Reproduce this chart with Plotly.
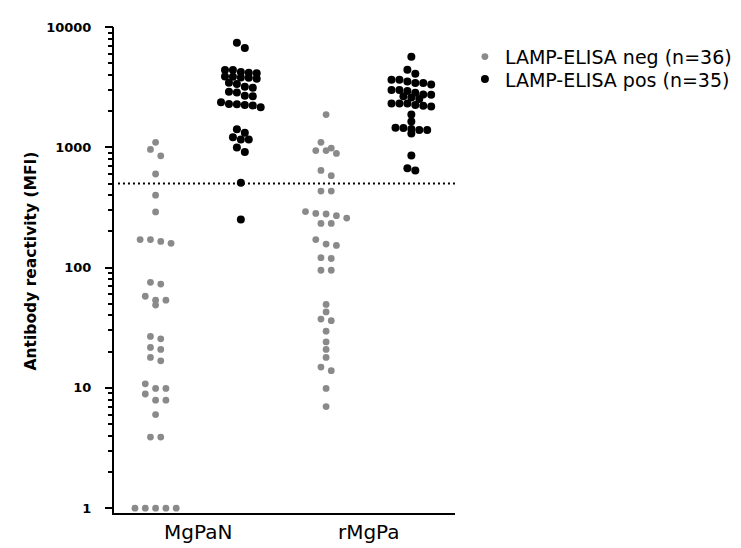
import numpy as np
import plotly.graph_objects as go

# ---------------- data ----------------
CATEGORIES = ["MgPaN", "rMgPa"]
CUTOFF = 500

NEG_MGPAN = [1100, 960, 850, 600, 400, 290, 171, 159, 165, 171,
             75.5, 73, 53.6, 48.8, 53.6, 57.8, 26.8, 25.6, 20.9, 21.7,
             17.9, 16.8, 10.8, 9.9, 9.9, 8.9, 7.9, 7.9, 6.0, 3.9, 3.9,
             1, 1, 1, 1, 1]
POS_MGPAN = [7400, 6700, 4390, 4230, 4120, 4170, 4390, 3850, 3780, 3710,
             3800, 3870, 3440, 3360, 3130, 3190, 2850, 2900, 2660, 2680,
             2370, 2280, 2230, 2150, 2250, 2290, 1410, 1320, 1210, 1160,
             1160, 995, 915, 507, 251]
NEG_RMGPA = [1870, 1100, 986, 940, 889, 940, 642, 581, 433, 433,
             292, 282, 270, 233, 233, 258, 279, 171, 153, 157,
             121, 119, 95, 95, 49.4, 42.8, 37.3, 36.2, 29.6, 24.1,
             20.9, 17.9, 14.9, 13.9, 9.9, 7.0]
POS_RMGPA = [5670, 4410, 4090, 3640, 3420, 3330, 3420, 3520, 3640, 3000,
             2840, 2730, 2660, 2750, 2940, 3000, 2520, 2600, 2310, 2250,
             2180, 2220, 2310, 2310, 1870, 1640, 1445, 1390, 1300, 1390,
             1420, 1455, 856, 642, 671]

NEG_NAME = "LAMP-ELISA neg (n=36)"
POS_NAME = "LAMP-ELISA pos (n=35)"
Y_TITLE = "Antibody reactivity (MFI)"
DECADES = [1, 10, 100, 1000, 10000]

# ---------------- layout geometry ----------------
W, H = 741, 548
M_L, M_R, M_T, M_B = 106, 291, 18, 33
Y_RANGE = [-0.04, 4.0]
X_RANGE = [0.506, 2.506]
plot_w = W - M_L - M_R
plot_h = H - M_T - M_B
px_per_decade = plot_h / (Y_RANGE[1] - Y_RANGE[0])
px_per_x = plot_w / (X_RANGE[1] - X_RANGE[0])
GROUP_OFFSET = 0.25


def px_to_paper_x(px):
    return (px - M_L) / plot_w


def px_to_paper_y(px):
    return 1 - (px - M_T) / plot_h


def swarm(values, spacing_px, row_h_px):
    """Column-scatter layout: bin points into rows, spread each row centred."""
    v = np.asarray(values, float)
    ypx = -np.log10(v) * px_per_decade
    order = np.argsort(ypx, kind="stable")
    offsets = np.zeros(len(v))
    rows, cur, start = [], [], None
    for i in order:
        if start is None or ypx[i] - start < row_h_px:
            if start is None:
                start = ypx[i]
            cur.append(i)
        else:
            rows.append(cur)
            cur, start = [i], ypx[i]
    if cur:
        rows.append(cur)
    for r in rows:
        n = len(r)
        for k, i in enumerate(r):
            offsets[i] = (k - (n - 1) / 2) * spacing_px
    return offsets / px_per_x


GRAY = "#8a8a8a"
FONT = "DejaVu Sans"

fig = go.Figure()

neg_x, neg_y, pos_x, pos_y = [], [], [], []
for ci, (neg, pos) in enumerate([(NEG_MGPAN, POS_MGPAN), (NEG_RMGPA, POS_RMGPA)]):
    c = ci + 1
    neg_x += list(c - GROUP_OFFSET + swarm(neg, 10.4, 7))
    neg_y += list(neg)
    pos_x += list(c + GROUP_OFFSET + swarm(pos, 8.0, 6))
    pos_y += list(pos)

fig.add_trace(go.Scatter(
    x=neg_x, y=neg_y, mode="markers", name=NEG_NAME, legend="legend",
    marker=dict(color=GRAY, size=6.8, line=dict(width=0)),
))
fig.add_trace(go.Scatter(
    x=pos_x, y=pos_y, mode="markers", name=POS_NAME, legend="legend2",
    marker=dict(color="black", size=8, line=dict(width=0)),
))

# cutoff line (drawn on the overlay axis, which carries the long decade ticks)
line_x0 = X_RANGE[0] + 4 / px_per_x
fig.add_trace(go.Scatter(
    x=[line_x0, X_RANGE[1]], y=[CUTOFF, CUTOFF], mode="lines", yaxis="y2",
    line=dict(color="black", width=2.2, dash="2px,3px"),
    showlegend=False, hoverinfo="skip",
))

legend_common = dict(
    xanchor="left", yanchor="top",
    font=dict(family=FONT, size=19, color="black"),
    bgcolor="rgba(0,0,0,0)", itemsizing="trace",
)

# all tick positions: decades (labelled) + 2..9 within each decade (unlabelled)
tick_vals, tick_text = [], []
for d in range(0, 5):
    for k in range(1, 10):
        v = k * 10 ** d
        if v > 10000:
            break
        tick_vals.append(v)
        tick_text.append(str(v) if v in DECADES else "")

fig.update_layout(
    width=W, height=H,
    margin=dict(l=M_L, r=M_R, t=M_T, b=M_B),
    paper_bgcolor="white", plot_bgcolor="white",
    font=dict(family=FONT, color="black"),
    showlegend=True,
    legend=dict(x=px_to_paper_x(460), y=px_to_paper_y(29), **legend_common),
    legend2=dict(x=px_to_paper_x(460), y=px_to_paper_y(52), **legend_common),
    xaxis=dict(
        range=X_RANGE, tickmode="array", tickvals=[1, 2], ticktext=CATEGORIES,
        showline=True, linecolor="black", linewidth=2, ticks="",
        showgrid=False, zeroline=False,
        tickfont=dict(family=FONT, size=20, color="black"),
    ),
    yaxis=dict(
        type="log", range=Y_RANGE, tickmode="array",
        tickvals=tick_vals, ticktext=tick_text,
        showline=True, linecolor="black", linewidth=2,
        ticks="outside", ticklen=4, tickwidth=1.5, tickcolor="black",
        ticklabelstandoff=14,
        showgrid=False, zeroline=False,
        tickfont=dict(family=FONT, size=13, color="black", weight="bold"),
    ),
    yaxis2=dict(
        type="log", range=Y_RANGE, overlaying="y", side="left", anchor="x",
        tickmode="array", tickvals=DECADES,
        ticks="outside", ticklen=8, tickwidth=2, tickcolor="black",
        showticklabels=False, showline=False, showgrid=False, zeroline=False,
    ),
    annotations=[dict(
        text=Y_TITLE, textangle=-90, showarrow=False,
        xref="paper", yref="paper",
        x=px_to_paper_x(22), y=px_to_paper_y(257),
        xanchor="center", yanchor="middle",
        font=dict(family=FONT, size=15.5, color="black", weight="bold"),
    )],
)

fig.write_html("out.html")
